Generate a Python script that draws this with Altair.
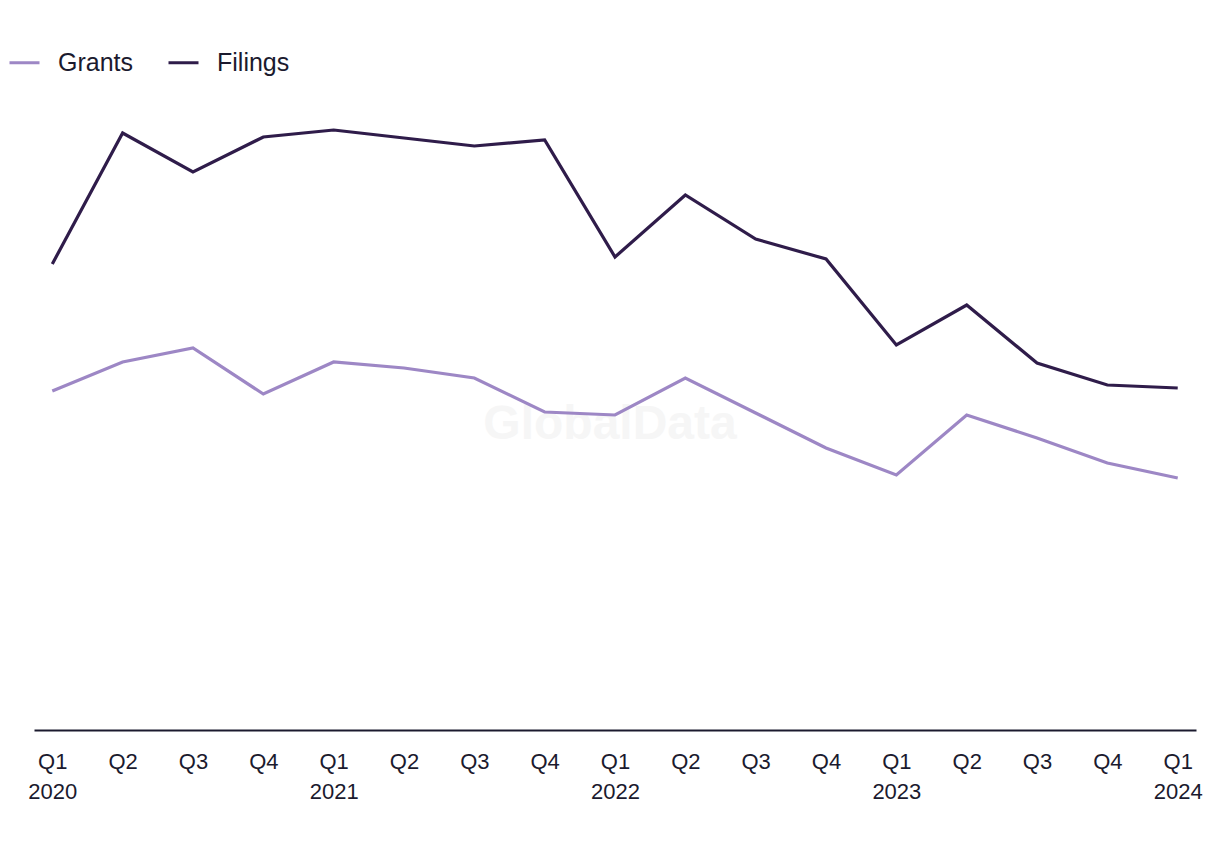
import altair as alt
import pandas as pd

quarters = ["Q1 2020", "Q2 2020", "Q3 2020", "Q4 2020",
            "Q1 2021", "Q2 2021", "Q3 2021", "Q4 2021",
            "Q1 2022", "Q2 2022", "Q3 2022", "Q4 2022",
            "Q1 2023", "Q2 2023", "Q3 2023", "Q4 2023",
            "Q1 2024"]
filings = [466, 597, 558, 593, 600, 592, 584, 590, 473, 535, 491, 471, 385, 425, 367, 345, 342]
grants = [339, 368, 382, 336, 368, 362, 352, 318, 315, 352, 317, 282, 255, 315, 292, 267, 252]
series_names = ["Grants", "Filings"]
series_colors = ["#9d87c5", "#2f1c4a"]

rows = []
for q, g, f in zip(quarters, grants, filings):
    rows.append({"quarter": q, "series": "Grants", "value": g})
    rows.append({"quarter": q, "series": "Filings", "value": f})
df = pd.DataFrame(rows)

W, H = 1162, 630

label_expr = ("substring(datum.value,0,2) == 'Q1' ? split(datum.value, ' ') : "
              "substring(datum.value,0,2)")

lines = alt.Chart(df).mark_line(strokeWidth=3.2).encode(
    x=alt.X("quarter:N", sort=quarters,
            scale=alt.Scale(type="point", padding=0.26),
            axis=alt.Axis(title=None, labelExpr=label_expr, labelAngle=0,
                          ticks=False, grid=False, domain=True,
                          domainColor="#1b1a2e", domainWidth=2,
                          labelFont="Liberation Sans", labelFontSize=22,
                          labelColor="#1b1a2e", labelLineHeight=30,
                          labelPadding=21)),
    y=alt.Y("value:Q", scale=alt.Scale(domain=[0, 630], nice=False),
            axis=None),
    color=alt.Color("series:N", sort=series_names,
                    scale=alt.Scale(domain=series_names, range=series_colors),
                    legend=alt.Legend(title=None, orient="none", direction="horizontal",
                                      legendX=-26, legendY=-54,
                                      symbolType="stroke", symbolSize=900,
                                      symbolStrokeWidth=3,
                                      labelFont="Liberation Sans", labelFontSize=25,
                                      labelColor="#1b1a2e", labelOffset=17,
                                      columnPadding=28)),
)

watermark = alt.Chart(pd.DataFrame({"t": ["GlobalData"]})).mark_text(
    font="Liberation Sans", fontWeight="bold", fontSize=48, color="#f6f6f6"
).encode(text="t:N", x=alt.value(576), y=alt.value(325))

chart = alt.layer(watermark, lines).properties(
    width=W, height=H, background="white",
    padding={"left": 0, "top": 38, "right": 5, "bottom": 5},
).configure_view(stroke=None, strokeWidth=0)

chart.save("out.html", embed_options={"renderer": "svg", "actions": False})
